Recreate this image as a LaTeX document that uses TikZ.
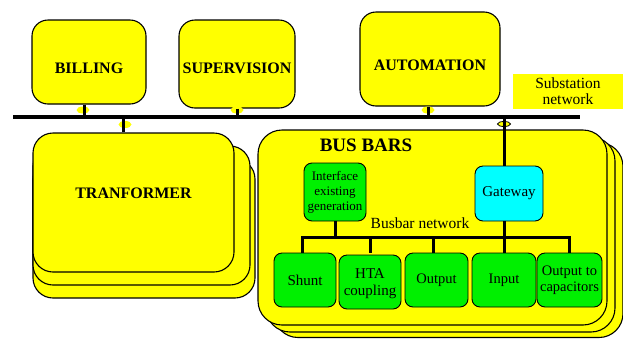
\documentclass[tikz,border=0pt]{standalone}
\usepackage{fontspec}
\setmainfont{Liberation Serif}
\usetikzlibrary{shapes.geometric}
\definecolor{boxyellow}{RGB}{255,255,0}
\definecolor{boxgreen}{RGB}{0,240,0}
\definecolor{boxcyan}{RGB}{0,255,255}
\begin{document}
\begin{tikzpicture}[x=1pt,y=-1pt,
   ybox/.style={draw=black,line width=1.1pt,fill=boxyellow,rounded corners=16pt,inner sep=0pt},
   gbox/.style={draw=black,line width=0.9pt,fill=boxgreen,rounded corners=8pt,inner sep=0pt,
     align=center,font=\fontsize{15}{16.5}\selectfont},
   bigtxt/.style={font=\fontsize{16}{18}\selectfont\bfseries},
   bus/.style={line width=3.6pt},
   tap/.style={line width=3pt},
   blob/.style={ellipse,fill=boxyellow,inner sep=0pt,minimum width=13pt,minimum height=7pt}]
   \useasboundingbox (0,0) rectangle (623,338);

   % top boxes
   \node[ybox,minimum width=114,minimum height=84,
     label={[bigtxt,yshift=-6pt]center:BILLING}] (billing) at (89,62) {};
   \node[ybox,minimum width=116,minimum height=88,
     label={[bigtxt,yshift=-4pt]center:SUPERVISION}] (superv) at (237,64) {};
   \node[ybox,minimum width=140,minimum height=94,
     label={[bigtxt,yshift=-6pt]center:AUTOMATION}] (autom) at (430,59) {};
   \node[fill=boxyellow,minimum width=110,minimum height=35,inner sep=0pt,align=center,
     font=\fontsize{15.5}{16}\selectfont] (subnet) at (568,91.5) {Substation\\network};

   % transformer stack
   \node[ybox,rounded corners=20pt,minimum width=222,minimum height=139] (tr3) at (144,228.5) {};
   \node[ybox,rounded corners=20pt,minimum width=217,minimum height=139] (tr2) at (141.5,215.5) {};
   \node[ybox,rounded corners=20pt,minimum width=201,minimum height=139,
     label={[bigtxt,yshift=9.5pt]center:TRANFORMER}] (transf) at (133.5,202.5) {};

   % bus bars stack
   \node[ybox,rounded corners=24pt,minimum width=349,minimum height=195] (bb3) at (448.5,240) {};
   \node[ybox,rounded corners=24pt,minimum width=349,minimum height=195] (bb2) at (440.5,234.5) {};
   \node[ybox,rounded corners=24pt,minimum width=349,minimum height=195] (busbars) at (432.5,227.5) {};
   \node[font=\fontsize{19}{22}\selectfont\bfseries] (bbtitle) at (366,145) {BUS BARS};

   % substation network
   \coordinate (busw) at (13,117);
   \coordinate (buse) at (580,117);
   \node[blob] (e1) at (83,110) {};
   \node[blob] (e2) at (237,110) {};
   \node[blob] (e3) at (428,110) {};
   \node[blob] (e4) at (125,124.5) {};
   \draw[bus] (busw) -- (buse);
   \draw[tap] ([xshift=-5pt]billing.south) -- ([xshift=-5pt]billing.south |- busw);
   \draw[tap] (superv.south) -- (superv.south |- busw);
   \draw[tap] ([xshift=-2pt]autom.south) -- ([xshift=-2pt]autom.south |- busw);
   \draw[tap] ([xshift=-10.5pt]transf.north) -- ([xshift=-10.5pt]transf.north |- busw);

   % bus bars content
   \node[gbox,minimum width=62,minimum height=58,font=\fontsize{13}{15}\selectfont]
     (iface) at (335,192) {Interface\\existing\\generation};
   \node[gbox,fill=boxcyan,minimum width=68,minimum height=55] (gateway) at (509,193.5) {Gateway};
   \node[blob,draw=black,line width=0.8pt,minimum height=5pt] (e5) at (504,124) {};
   \draw[tap] ([xshift=-5pt]gateway.north) -- ([xshift=-5pt]gateway.north |- busw);
   \node[font=\fontsize{15.5}{18}\selectfont] (bbnet) at (420,223) {Busbar network};

   \node[gbox,minimum width=62,minimum height=54] (shunt) at (305,280) {Shunt};
   \node[gbox,minimum width=62,minimum height=54,text depth=0pt] (hta) at (370,282) {HTA\\coupling};
   \node[gbox,minimum width=63,minimum height=54,font=\fontsize{14.5}{16}\selectfont] (output) at (436.5,280) {Output};
   \node[gbox,minimum width=64,minimum height=54,font=\fontsize{14.5}{16}\selectfont] (input) at (504,280) {Input};
   \node[gbox,minimum width=65,minimum height=54,font=\fontsize{14.5}{16}\selectfont] (caps) at (569.5,280) {Output to\\capacitors};

   \coordinate (bbus) at (302,237);
   \draw[tap] ([xshift=-3pt]shunt.north) |- (caps.north |- bbus) -- (caps.north);
   \draw[tap] (hta.north |- shunt.north) -- (hta.north |- bbus);
   \draw[tap] ([xshift=-3pt]output.north) -- ([xshift=-3pt]output.north |- bbus);
   \draw[tap] (input.north) -- (input.north |- bbus);
   \draw[tap] (iface.south) -- (iface.south |- bbus);
   \draw[tap] ([xshift=-5pt]gateway.south) -- ([xshift=-5pt]gateway.south |- bbus);
\end{tikzpicture}
\end{document}
